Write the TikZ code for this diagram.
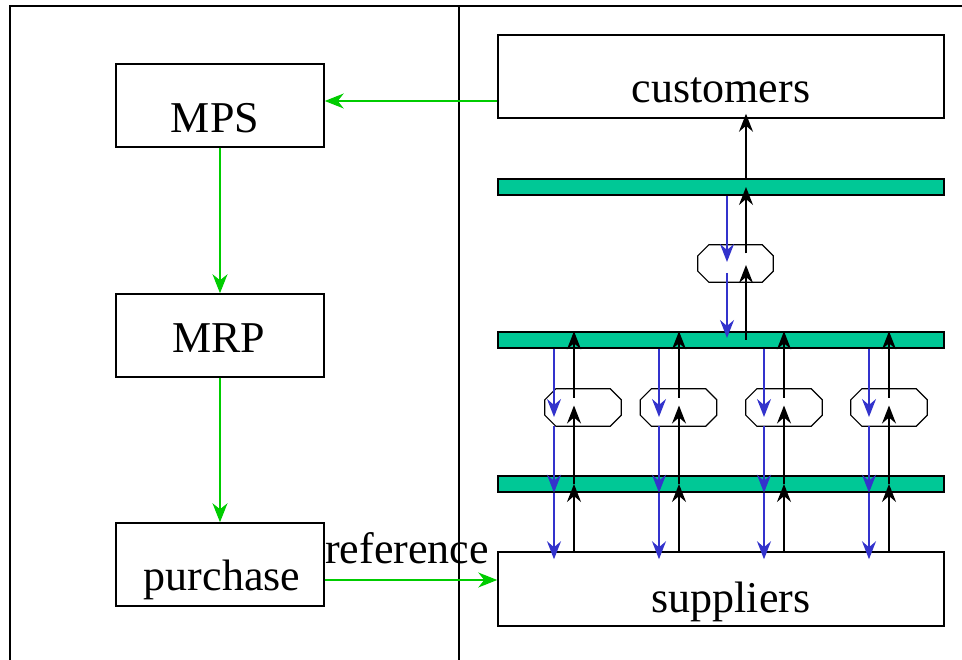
\documentclass[tikz,border=0pt]{standalone}
\usepackage{fontspec}
\setmainfont{Liberation Serif}
\usetikzlibrary{arrows.meta,calc}
\definecolor{gline}{RGB}{0,204,0}
\definecolor{bline}{RGB}{51,51,204}
\definecolor{barfill}{RGB}{0,200,150}
\newcommand\octagonpath[1]{%
  \draw[hexline] ([xshift=11pt]#1.north west) -- ([xshift=-11pt]#1.north east)
    -- ([yshift=-11pt]#1.north east) -- ([yshift=11pt]#1.south east)
    -- ([xshift=-11pt]#1.south east) -- ([xshift=11pt]#1.south west)
    -- ([yshift=11pt]#1.south west) -- ([yshift=-11pt]#1.north west) -- cycle;}
\begin{document}
\begin{tikzpicture}[x=1pt,y=-1pt,
  box/.style={draw, line width=1.5pt, fill=white, inner sep=0pt},
  bar/.style={draw, line width=1.5pt, fill=barfill, inner sep=0pt, minimum width=446pt, minimum height=16pt},
  hexa/.style={inner sep=0pt, minimum width=76pt, minimum height=37pt},
  hexline/.style={line width=1.2pt},
  lbl/.style={anchor=base, inner sep=0pt, font=\fontsize{44}{50}\selectfont},
  garrow/.style={draw=gline, line width=1.5pt, -{Stealth[length=19pt,width=15pt,inset=6pt]}},
  karrow/.style={draw=black, line width=1.5pt, -{Stealth[length=18pt,width=14pt,inset=6pt]}},
  barrow/.style={draw=bline, line width=1.5pt, -{Stealth[length=18pt,width=14pt,inset=6pt]}}]
\useasboundingbox (0,0) rectangle (962,660);
% frame
\draw[line width=1.5pt] (10,660) -- (10,6) -- (962,6);
\draw[line width=1.5pt] (459,6) -- (459,660);
% left boxes
\node[box, minimum width=208pt, minimum height=83pt] (mps) at (220,105.5) {};
\node[box, minimum width=208pt, minimum height=83pt] (mrp) at (220,335.5) {};
\node[box, minimum width=208pt, minimum height=83pt] (pur) at (220,564.5) {};
\node[lbl] (tmps) at (215,133) {MPS};
\node[lbl] (tmrp) at (219,353) {MRP};
\node[lbl] (tpur) at (222,590) {purchase};
% right boxes
\node[box, minimum width=446pt, minimum height=83pt] (cust) at (721,76.5) {};
\node[box, minimum width=446pt, minimum height=74pt] (supp) at (721,589) {};
\node[lbl] (tcust) at (721,103) {customers};
\node[lbl] (tsupp) at (731,612) {suppliers};
\node[bar] (bar1) at (721,187) {};
\node[bar] (bar2) at (721,340) {};
\node[bar] (bar3) at (721,484) {};
% hexagons
\node[hexa, minimum width=75pt] (h0) at (735.5,263.5) {};
\octagonpath{h0}
\coordinate (b0) at (727,0);
\coordinate (k0) at (746,0);
\foreach \i/\cx/\bx/\kx in {1/583/554/574,2/678.5/659/679,3/784/764/784,4/889/869/889}{
  \node[hexa] (h\i) at (\cx,407.5) {};
  \octagonpath{h\i}
  \coordinate (b\i) at (\bx,0);
  \coordinate (k\i) at (\kx,0);
  % black (upwards)
  \draw[karrow] (supp.north -| k\i) -- (bar3.center -| k\i);
  \draw[karrow] (bar3.center -| k\i) -- ($(h\i.center -| k\i)+(0,-2)$);
  \draw[karrow] ($(h\i.center -| k\i)+(0,-9.5)$) -- (bar2.north -| k\i);
  % blue (downwards)
  \draw[barrow] (bar2.south -| b\i) -- ($(h\i.center -| b\i)+(0,9.5)$);
  \draw[barrow] (h\i.south -| b\i) -- (bar3.south -| b\i);
  \draw[barrow] (bar3.south -| b\i) -- ($(supp.north -| b\i)+(0,8)$);
}
% top column
\draw[barrow] (bar1.south -| b0) -- ($(h0.center -| b0)+(0,-1.5)$);
\draw[barrow] ($(h0.center -| b0)+(0,9.5)$) -- ($(bar2.center -| b0)+(0,-2)$);
\draw[karrow] (bar2.center -| k0) -- ($(h0.center -| k0)+(0,1.5)$);
\draw[karrow] ($(h0.center -| k0)+(0,-10)$) -- (bar1.center -| k0);
\draw[karrow] (bar1.north -| k0) -- ($(cust.south -| k0)+(0,-5)$);
% green flow
\draw[garrow] ($(cust.west)+(0,24.5)$) -- ($(cust.west -| mps.east)+(0,24.5)$);
\draw[garrow] (mps.south) -- (mrp.north);
\draw[garrow] (mrp.south) -- (pur.north);
\draw[garrow] ($(pur.east)+(0,15.5)$) -- ($(pur.east -| supp.west)+(0,15.5)$);
\node[lbl] (tref) at (407,563) {reference};
\end{tikzpicture}
\end{document}
